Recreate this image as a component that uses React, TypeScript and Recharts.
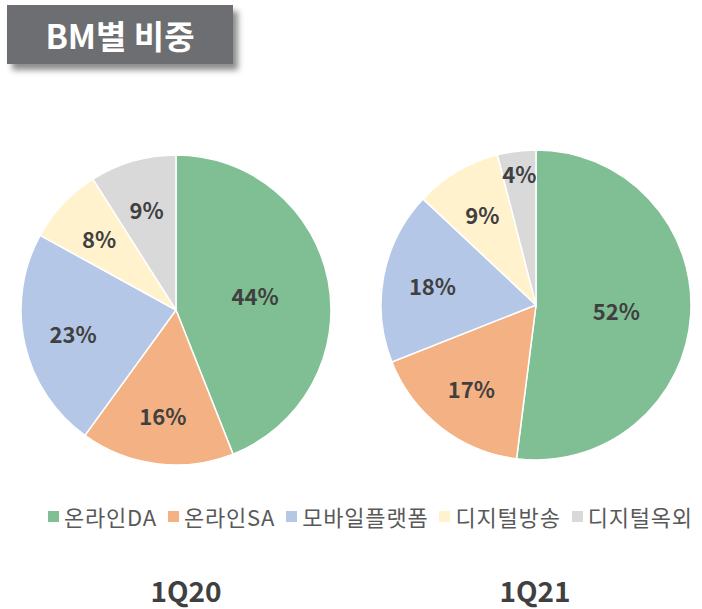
import { Cell, Legend, Pie, PieChart } from "recharts"

const categories = ["온라인DA", "온라인SA", "모바일플랫폼", "디지털방송", "디지털옥외"]
const colors = ["#7fbf93", "#f4b183", "#b4c7e7", "#fff2cc", "#d9d9d9"]
const values1Q20 = [44, 16, 23, 8, 9]
const values1Q21 = [52, 17, 18, 9, 4]
const periods = ["1Q20", "1Q21"]

const data20 = categories.map((name, i) => ({ name, value: values1Q20[i] }))
const data21 = categories.map((name, i) => ({ name, value: values1Q21[i] }))

const RAD = Math.PI / 180
const font = "'Noto Sans CJK KR', 'Noto Sans', sans-serif"

// labels sit nearer the rim on thin slices, like the original
const renderLabel = (props: any) => {
    const { cx, cy, midAngle, outerRadius, value, percent } = props
    const k = percent > 0.3 ? 0.52 : percent < 0.06 ? 0.86 : 0.68
    const r = outerRadius * k
    const x = cx + r * Math.cos(-midAngle * RAD)
    const y = cy + r * Math.sin(-midAngle * RAD)
    return (
        <text x={x} y={y} fill="#404040" textAnchor="middle" dominantBaseline="central"
            fontSize={22} fontWeight="bold" fontFamily={font}>
            {value}%
        </text>
    )
}

const renderLegend = () => (
    <div style={{
        display: "flex", paddingLeft: 48, fontFamily: font, fontSize: 22, letterSpacing: 0.8,
        color: "#595959", whiteSpace: "nowrap"
    }}>
        {categories.map((c, i) => (
            <span key={c} style={{ display: "flex", alignItems: "center", marginRight: 11, flexShrink: 0 }}>
                <span style={{ width: 11, height: 11, background: colors[i], marginRight: 5, display: "inline-block" }} />
                {c}
            </span>
        ))}
    </div>
)

export default function App() {
    return (
        <div style={{ position: "absolute", left: 0, top: 0, width: 702, height: 609, background: "#fff", overflow: "hidden" }}>
            <div style={{
                position: "absolute", left: 7, top: 5, width: 226, height: 59, background: "#6d6e71",
                boxShadow: "5px 6px 6px rgba(0,0,0,0.45)", color: "#fff", fontFamily: font, fontWeight: "bold",
                fontSize: 33, display: "flex", alignItems: "center", justifyContent: "center"
            }}>
                BM별 비중
            </div>
            <PieChart width={702} height={609} margin={{ top: 0, right: 0, bottom: 0, left: 0 }}
                style={{ position: "absolute", left: 0, top: 0 }}>
                <Pie data={data20} dataKey="value" nameKey="name" cx={176} cy={310} outerRadius={155}
                    startAngle={90} endAngle={-270} stroke="#fff" strokeWidth={1.5}
                    label={renderLabel} labelLine={false} isAnimationActive={false}>
                    {data20.map((d, i) => <Cell key={d.name} fill={colors[i]} />)}
                </Pie>
                <Pie data={data21} dataKey="value" nameKey="name" cx={536} cy={305} outerRadius={155}
                    startAngle={90} endAngle={-270} stroke="#fff" strokeWidth={1.5}
                    label={renderLabel} labelLine={false} isAnimationActive={false}>
                    {data21.map((d, i) => <Cell key={d.name} fill={colors[i]} />)}
                </Pie>
                <Legend content={renderLegend} wrapperStyle={{ top: 500, left: 0, width: 702 }} />
                <text x={186} y={602} textAnchor="middle" fill="#404040"
                    fontSize={28} fontWeight="bold" fontFamily={font}>{periods[0]}</text>
                <text x={535} y={602} textAnchor="middle" fill="#404040"
                    fontSize={28} fontWeight="bold" fontFamily={font}>{periods[1]}</text>
            </PieChart>
        </div>
    )
}
